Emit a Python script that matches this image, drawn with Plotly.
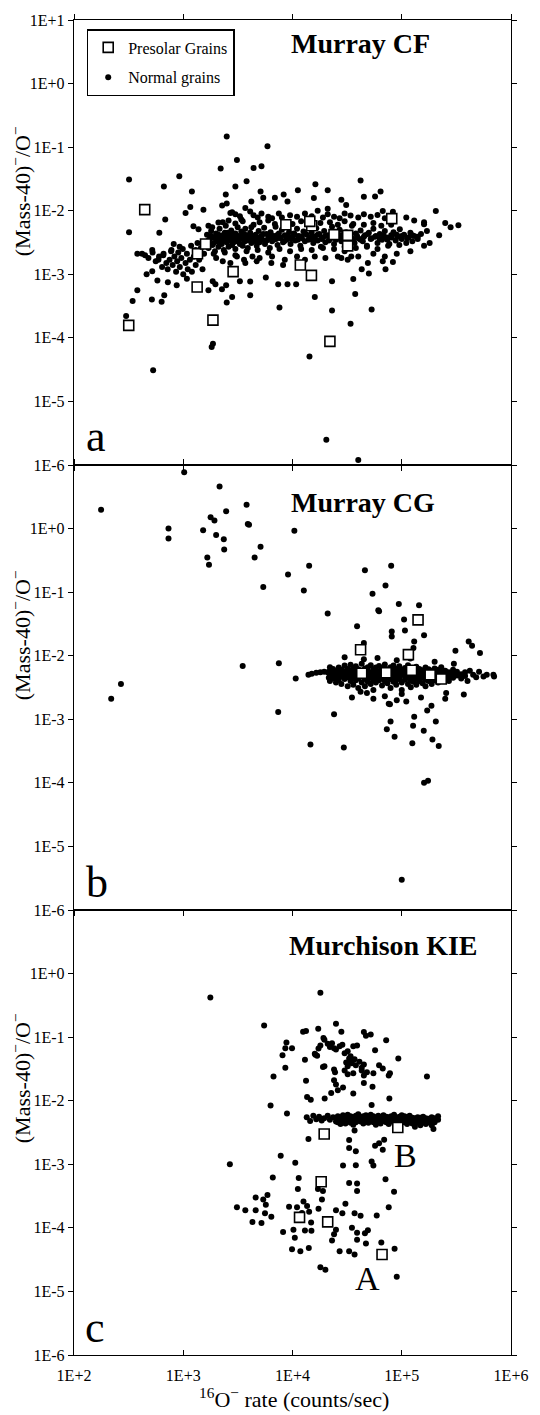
import plotly.graph_objects as go

# ---------------- data ----------------
x_tick_vals = [1e2, 1e3, 1e4, 1e5, 1e6]
x_tick_text = ["1E+2", "1E+3", "1E+4", "1E+5", "1E+6"]
y_tick_vals = [1e-6, 1e-5, 1e-4, 1e-3, 1e-2, 1e-1, 1e0, 1e1]
y_tick_text = ["1E-6", "1E-5", "1E-4", "1E-3", "1E-2", "1E-1", "1E+0", "1E+1"]

panel_titles = ["Murray CF", "Murray CG", "Murchison KIE"]
panel_letters = ["a", "b", "c"]
legend_names = ["Presolar Grains", "Normal grains"]

# ---- panel a : Murray CF ----
cf_presolar = [(444, 0.0104), (317, 0.000157), (1870, 0.00019), (1340, 0.00063), (2860, 0.0011),
               (1350, 0.0021), (1600, 0.0030), (8700, 0.0060), (15000, 0.0058), (14400, 0.0068),
               (24000, 0.0042), (32000, 0.0041), (32000, 0.0028), (11800, 0.0014), (14900, 0.00096),
               (22000, 8.8e-5), (81000, 0.0075)]

cf_scatter = [(2500, 0.147), (5900, 0.103), (3100, 0.063), (2200, 0.046), (4400, 0.047), (5200, 0.050),
              (319, 0.031), (920, 0.035), (665, 0.024), (3800, 0.029), (3000, 0.024), (1200, 0.020),
              (2450, 0.018), (5100, 0.020), (4200, 0.014), (5400, 0.016), (6900, 0.016), (8300, 0.018),
              (11200, 0.021), (16200, 0.026), (21000, 0.021), (15700, 0.0158), (9000, 0.014), (42000, 0.030),
              (45000, 0.0166), (57000, 0.0168), (64000, 0.020), (28000, 0.0149), (31000, 0.0123),
              (21000, 0.0107), (205000, 0.0099), (250000, 0.0064), (330000, 0.0059), (280000, 0.0055),
              (160000, 0.0061), (170000, 0.0048), (220000, 0.0041), (67000, 0.0099), (83000, 0.0096),
              (319, 0.0046), (604, 0.0045), (684, 0.0073), (1050, 0.0092), (1160, 0.0114), (1530, 0.0104),
              (2270, 0.0121), (2500, 0.013), (2700, 0.0092), (3400, 0.0073), (1840, 0.0055), (2300, 0.0066),
              (1240, 0.0057), (1380, 0.0051), (818, 0.0030), (927, 0.0027), (380, 0.0021), (447, 0.0020),
              (524, 0.0022), (593, 0.0017), (656, 0.0020), (774, 0.0023), (462, 0.0010), (520, 0.00112),
              (580, 0.0008), (723, 0.00075), (871, 0.00067), (1080, 0.00085), (380, 0.00056), (344, 0.00038),
              (516, 0.0004), (634, 0.00037), (670, 0.00047), (300, 0.00022), (1870, 8.1e-5), (1820, 7.2e-5),
              (530, 3.1e-5), (14300, 5.1e-5), (7600, 0.0003), (16000, 0.00044), (23000, 0.00027),
              (34000, 0.000167), (53000, 0.00028), (37500, 0.00049), (36000, 0.00084), (23000, 0.00078),
              (7400, 0.0007), (9000, 0.0007), (10800, 0.0007), (4100, 0.00047), (2800, 0.00044),
              (2500, 0.00036), (1700, 0.00056), (2260, 0.00058), (2470, 0.00067), (1860, 0.00078),
              (1970, 0.0007), (3300, 0.00078), (4100, 0.00077), (5700, 0.00089), (6400, 0.0015),
              (8200, 0.0014), (4700, 0.0016), (3700, 0.0015), (43000, 0.0012), (50000, 0.00103),
              (49000, 0.0015), (67000, 0.0016), (71000, 0.0012), (83000, 0.00156), (28000, 0.0018),
              (34500, 0.0019), (20400, 2.5e-6), (40000, 1.2e-6)]

cf_arm = [(420, 0.0021), (480, 0.0018), (520, 0.0024), (560, 0.0016), (600, 0.0019), (640, 0.0013),
          (660, 0.0021), (700, 0.0015), (720, 0.0012), (750, 0.0017), (780, 0.0024), (800, 0.0014),
          (830, 0.0019), (860, 0.0011), (880, 0.0016), (900, 0.0022), (930, 0.0013), (960, 0.0018),
          (990, 0.0025), (1000, 0.0010), (1050, 0.0015), (1080, 0.0021), (1100, 0.0012), (1150, 0.0017),
          (1180, 0.0028), (1200, 0.0011), (1250, 0.0019), (1300, 0.0024), (1300, 0.0014), (1350, 0.0031),
          (1400, 0.0017), (1450, 0.0026), (1500, 0.0012), (1550, 0.0021)]

cf_band = [(1600, 0.0031), (1650, 0.0042), (1700, 0.0026), (1750, 0.0036), (1800, 0.0048), (1850, 0.0029),
           (1900, 0.0038), (1950, 0.0023), (2000, 0.0044), (2050, 0.0033), (2100, 0.0027), (2150, 0.0052),
           (2200, 0.0037), (2250, 0.0030), (2300, 0.0041), (2350, 0.0024), (2400, 0.0035), (2450, 0.0058),
           (2500, 0.0032), (2550, 0.0045), (2600, 0.0027), (2650, 0.0039), (2700, 0.0034), (2750, 0.0049),
           (2800, 0.0029), (2900, 0.0037), (2950, 0.0043), (3000, 0.0025), (3100, 0.0033), (3150, 0.0055),
           (3200, 0.0040), (3300, 0.0030), (3350, 0.0036), (3400, 0.0047), (3500, 0.0028), (3600, 0.0038),
           (3650, 0.0033), (3700, 0.0052), (3800, 0.0041), (3900, 0.0026), (4000, 0.0035), (4100, 0.0045),
           (4200, 0.0031), (4300, 0.0039), (4400, 0.0060), (4500, 0.0034), (4600, 0.0042), (4700, 0.0028),
           (4800, 0.0037), (4900, 0.0048), (5000, 0.0032), (5200, 0.0040), (5300, 0.0035), (5500, 0.0054),
           (5600, 0.0030), (5800, 0.0043), (6000, 0.0037), (6200, 0.0026), (6300, 0.0046), (6500, 0.0033),
           (6700, 0.0040), (6900, 0.0062), (7100, 0.0036), (7300, 0.0029), (7500, 0.0044), (7700, 0.0038),
           (8000, 0.0050), (8200, 0.0032), (8500, 0.0041), (8800, 0.0035), (9000, 0.0057), (9300, 0.0046),
           (9600, 0.0030), (10000, 0.0039), (10300, 0.0044), (10600, 0.0034), (11000, 0.0052),
           (11400, 0.0040), (11800, 0.0028), (12200, 0.0037), (12600, 0.0047), (13000, 0.0033),
           (13500, 0.0042), (14000, 0.0061), (14500, 0.0036), (15000, 0.0045), (15500, 0.0031),
           (16000, 0.0039), (16500, 0.0053), (17000, 0.0034), (17600, 0.0043), (18200, 0.0027),
           (18800, 0.0038), (19500, 0.0048), (20000, 0.0032), (21000, 0.0041), (22000, 0.0036),
           (23000, 0.0056), (24000, 0.0030), (25000, 0.0044), (26000, 0.0038), (27000, 0.0050),
           (28000, 0.0033), (29000, 0.0042), (30000, 0.0027), (31000, 0.0046), (32000, 0.0035),
           (34000, 0.0040), (35000, 0.0058), (37000, 0.0031), (38000, 0.0044), (40000, 0.0037),
           (42000, 0.0049), (44000, 0.0033), (46000, 0.0041), (48000, 0.0028), (50000, 0.0045),
           (52000, 0.0036), (55000, 0.0052), (57000, 0.0039), (60000, 0.0031), (63000, 0.0043),
           (66000, 0.0035), (70000, 0.0048), (73000, 0.0038), (77000, 0.0030), (80000, 0.0041),
           (84000, 0.0046), (88000, 0.0034), (92000, 0.0039), (96000, 0.0051), (100000, 0.0036),
           (105000, 0.0042), (110000, 0.0031), (115000, 0.0038), (120000, 0.0045), (125000, 0.0033),
           (130000, 0.0040), (140000, 0.0036), (150000, 0.0043),
           (1700, 0.0058), (2100, 0.0065), (2600, 0.0070), (3000, 0.0063), (3500, 0.0068), (4200, 0.0055),
           (5000, 0.0066), (6000, 0.0070), (7000, 0.0056), (8500, 0.0066), (10000, 0.0062), (12000, 0.0068),
           (15000, 0.0058), (18000, 0.0064), (22000, 0.0066), (26000, 0.0060), (30000, 0.0068),
           (36000, 0.0062), (45000, 0.0060), (55000, 0.0064), (65000, 0.0058), (80000, 0.0060),
           (1900, 0.0021), (2400, 0.0022), (3000, 0.0020), (3800, 0.0023), (4800, 0.0024), (6000, 0.0022),
           (7600, 0.0025), (9500, 0.0023), (12000, 0.0025), (15000, 0.0024), (19000, 0.0026),
           (24000, 0.0025), (30000, 0.0023), (38000, 0.0026), (48000, 0.0027), (60000, 0.0025),
           (75000, 0.0028), (95000, 0.0029)]

cf_band_core = [(1700, 0.0034), (1800, 0.0040), (1900, 0.0031), (2000, 0.0037), (2100, 0.0042), (2200, 0.0033),
                (2300, 0.0036), (2400, 0.0045), (2500, 0.0039), (2600, 0.0034), (2700, 0.0041), (2800, 0.0036),
                (2900, 0.0032), (3000, 0.0044), (3200, 0.0035), (3400, 0.0039), (3600, 0.0043), (3800, 0.0034),
                (4000, 0.0040), (4300, 0.0036), (4600, 0.0033), (5000, 0.0038), (5400, 0.0043), (5800, 0.0034),
                (6200, 0.0039), (6700, 0.0035), (7200, 0.0041), (7800, 0.0037), (8400, 0.0033), (9000, 0.0040),
                (9800, 0.0036), (10500, 0.0042), (11200, 0.0035), (12000, 0.0039), (13000, 0.0044),
                (14000, 0.0035), (15000, 0.0039), (16000, 0.0034), (17000, 0.0042), (18500, 0.0036),
                (20000, 0.0040), (21500, 0.0034), (23000, 0.0039), (25000, 0.0035), (27000, 0.0041),
                (29000, 0.0037), (31000, 0.0034), (33000, 0.0042), (36000, 0.0036), (39000, 0.0040),
                (42000, 0.0035), (45000, 0.0039), (49000, 0.0043), (53000, 0.0037), (58000, 0.0040),
                (63000, 0.0036), (68000, 0.0041), (74000, 0.0035), (81000, 0.0038), (90000, 0.0042),
                (100000, 0.0040), (112000, 0.0037), (125000, 0.0041), (140000, 0.0039)]

cf_edges = [(2800, 0.0095), (3000, 0.0088), (3300, 0.0082), (3700, 0.011), (4100, 0.0097), (4400, 0.0085),
            (4800, 0.0078), (5200, 0.0090), (6000, 0.0080), (6500, 0.0076), (7500, 0.0090), (8000, 0.0078),
            (9500, 0.0085), (11000, 0.0080), (13000, 0.0090), (15000, 0.0082), (17000, 0.0100),
            (19000, 0.0078), (21000, 0.0088), (24000, 0.0080), (27000, 0.0076), (30000, 0.0090),
            (34000, 0.0084), (40000, 0.0078), (45000, 0.0088), (52000, 0.0080), (60000, 0.0086),
            (70000, 0.0076), (85000, 0.0080), (110000, 0.0078), (130000, 0.0070), (160000, 0.0066),
            (2000, 0.0018), (2300, 0.0016), (2700, 0.0015), (3100, 0.0019), (3600, 0.0017), (4300, 0.0019),
            (5000, 0.0018), (6500, 0.0019), (8500, 0.0017), (11000, 0.0019), (13000, 0.0017),
            (16000, 0.0019), (20000, 0.0018), (26000, 0.0019), (32000, 0.0017), (40000, 0.0019),
            (55000, 0.0021), (70000, 0.0019), (90000, 0.0021), (120000, 0.0023), (160000, 0.0028),
            (180000, 0.0031)]

# ---- panel b : Murray CG ----
cg_presolar = [(141000, 0.0366), (42000, 0.0124), (115000, 0.0104), (43000, 0.0053), (72000, 0.0054),
               (123000, 0.0059), (182000, 0.0050), (230000, 0.0043)]

cg_scatter = [(1020, 7.7), (177, 1.97), (2150, 4.6), (2470, 1.88), (3800, 2.37), (1780, 1.51), (1930, 1.34),
              (733, 1.0), (733, 0.70), (1520, 0.94), (2000, 0.79), (2350, 0.68), (2370, 0.47), (1660, 0.35),
              (1720, 0.27), (3900, 1.18), (4000, 1.15), (5100, 0.52), (4500, 0.35), (10400, 0.92),
              (5400, 0.121), (9100, 0.19), (14200, 0.26), (12700, 0.106), (21000, 0.046), (46000, 0.22),
              (80000, 0.26), (71000, 0.127), (54000, 0.094), (61000, 0.052), (62000, 0.050), (94000, 0.065),
              (144000, 0.062), (105000, 0.037), (107000, 0.025), (81000, 0.024), (81000, 0.020),
              (160000, 0.021), (130000, 0.0168), (128000, 0.0132), (39000, 0.029), (45000, 0.0158),
              (410000, 0.0168), (440000, 0.0144), (520000, 0.011), (310000, 0.012), (3500, 0.0069),
              (7500, 0.0076), (10700, 0.0044), (269, 0.0036), (219, 0.0021), (7400, 0.0013), (24000, 0.0012),
              (14600, 0.0004), (29500, 0.00036), (76000, 0.00175), (78000, 0.00172), (79000, 0.00092),
              (73000, 0.0007), (86000, 0.00053), (130000, 0.0011), (127000, 0.00079), (125000, 0.00042),
              (159000, 0.00066), (171000, 0.00137), (187000, 0.00164), (205000, 0.00092), (191000, 0.00048),
              (218000, 0.00038), (160000, 0.0001), (174000, 0.000108), (370000, 0.00245), (690000, 0.0050),
              (700000, 0.0047), (510000, 0.0056), (42000, 0.0027), (48000, 0.0026), (100000, 0.0025),
              (255000, 0.0026), (100000, 3.0e-6),
              (14000, 0.0050), (15000, 0.0052), (16500, 0.0054), (18000, 0.0055), (19500, 0.0056),
              (21000, 0.0055), (22000, 0.0066), (21500, 0.0045), (450000, 0.0050), (480000, 0.0046),
              (420000, 0.0058), (600000, 0.0050), (560000, 0.0047), (400000, 0.0040), (30000, 0.0095),
              (45000, 0.0088), (60000, 0.0092), (90000, 0.0085), (120000, 0.0090), (200000, 0.0080),
              (300000, 0.0075), (35000, 0.0022), (55000, 0.0021), (70000, 0.0023), (90000, 0.0020),
              (150000, 0.0022), (250000, 0.0021), (110000, 0.0019)]

cg_band = [(22000, 0.0048), (22000, 0.0058), (22000, 0.0040), (23500, 0.0052), (23500, 0.0044), (23500, 0.0062),
           (25000, 0.0050), (25000, 0.0038), (25000, 0.0057), (25000, 0.0046), (26500, 0.0055), (26500, 0.0042),
           (26500, 0.0049), (26500, 0.0065), (28000, 0.0047), (28000, 0.0060), (28000, 0.0036), (28000, 0.0053),
           (30000, 0.0051), (30000, 0.0043), (30000, 0.0070), (30000, 0.0057), (32000, 0.0046), (32000, 0.0054),
           (32000, 0.0033), (32000, 0.0062), (34000, 0.0058), (34000, 0.0049), (34000, 0.0040), (34000, 0.0072),
           (36000, 0.0052), (36000, 0.0045), (36000, 0.0064), (36000, 0.0035), (38000, 0.0048), (38000, 0.0056),
           (38000, 0.0041), (38000, 0.0068), (40000, 0.0053), (40000, 0.0044), (40000, 0.0061), (40000, 0.0031),
           (43000, 0.0050), (43000, 0.0058), (43000, 0.0038), (43000, 0.0047), (43000, 0.0075),
           (46000, 0.0055), (46000, 0.0043), (46000, 0.0063), (46000, 0.0049), (46000, 0.0033),
           (49000, 0.0047), (49000, 0.0052), (49000, 0.0066), (49000, 0.0039), (49000, 0.0058),
           (52000, 0.0054), (52000, 0.0045), (52000, 0.0071), (52000, 0.0050), (52000, 0.0036),
           (55000, 0.0049), (55000, 0.0060), (55000, 0.0042), (55000, 0.0055), (55000, 0.0029),
           (58000, 0.0052), (58000, 0.0046), (58000, 0.0065), (58000, 0.0038), (58000, 0.0057),
           (62000, 0.0056), (62000, 0.0048), (62000, 0.0041), (62000, 0.0069), (62000, 0.0052),
           (66000, 0.0050), (66000, 0.0059), (66000, 0.0044), (66000, 0.0034), (66000, 0.0063),
           (70000, 0.0054), (70000, 0.0047), (70000, 0.0073), (70000, 0.0040), (70000, 0.0058),
           (74000, 0.0049), (74000, 0.0061), (74000, 0.0052), (74000, 0.0037), (74000, 0.0045),
           (79000, 0.0055), (79000, 0.0043), (79000, 0.0066), (79000, 0.0050), (79000, 0.0031),
           (84000, 0.0051), (84000, 0.0058), (84000, 0.0039), (84000, 0.0047), (84000, 0.0070),
           (89000, 0.0046), (89000, 0.0054), (89000, 0.0062), (89000, 0.0041), (89000, 0.0035),
           (95000, 0.0053), (95000, 0.0048), (95000, 0.0068), (95000, 0.0044), (95000, 0.0057),
           (100000, 0.0050), (100000, 0.0060), (100000, 0.0038), (100000, 0.0055), (100000, 0.0029),
           (107000, 0.0047), (107000, 0.0056), (107000, 0.0064), (107000, 0.0042), (107000, 0.0051),
           (114000, 0.0054), (114000, 0.0045), (114000, 0.0071), (114000, 0.0036), (114000, 0.0059),
           (121000, 0.0049), (121000, 0.0058), (121000, 0.0041), (121000, 0.0052), (121000, 0.0032),
           (128000, 0.0055), (128000, 0.0046), (128000, 0.0063), (128000, 0.0039), (128000, 0.0050),
           (136000, 0.0051), (136000, 0.0060), (136000, 0.0043), (136000, 0.0035), (136000, 0.0067),
           (145000, 0.0048), (145000, 0.0056), (145000, 0.0040), (145000, 0.0062), (145000, 0.0053),
           (155000, 0.0053), (155000, 0.0045), (155000, 0.0059), (155000, 0.0037), (155000, 0.0049),
           (165000, 0.0050), (165000, 0.0057), (165000, 0.0042), (165000, 0.0065), (165000, 0.0033),
           (176000, 0.0046), (176000, 0.0054), (176000, 0.0061), (176000, 0.0040),
           (188000, 0.0052), (188000, 0.0044), (188000, 0.0058), (188000, 0.0036),
           (200000, 0.0049), (200000, 0.0056), (200000, 0.0041), (200000, 0.0063),
           (215000, 0.0053), (215000, 0.0045), (215000, 0.0060), (215000, 0.0038),
           (230000, 0.0048), (230000, 0.0055), (230000, 0.0042), (230000, 0.0066),
           (250000, 0.0051), (250000, 0.0044), (250000, 0.0058), (270000, 0.0047), (270000, 0.0055),
           (270000, 0.0040), (295000, 0.0052), (295000, 0.0045), (295000, 0.0060), (320000, 0.0049),
           (320000, 0.0056), (350000, 0.0051), (350000, 0.0044), (380000, 0.0048), (380000, 0.0055)]

# ---- panel c : Murchison KIE ----
kie_presolar = [(19500, 0.0030), (92000, 0.0038), (18300, 0.00053), (11600, 0.000146), (21000, 0.000124),
                (66000, 3.8e-5)]

kie_scatter = [(1770, 0.42), (18000, 0.50), (5500, 0.152), (25000, 0.163), (12500, 0.122), (13300, 0.125),
               (17200, 0.136), (28000, 0.122), (45000, 0.12), (52000, 0.11), (47000, 0.105), (72000, 0.089),
               (8800, 0.082), (9900, 0.067), (8600, 0.067), (8100, 0.052), (8600, 0.033), (6700, 0.024),
               (6300, 0.0084), (8900, 0.0063), (13300, 0.0207), (13600, 0.0114), (14700, 0.0104),
               (13000, 0.044), (16000, 0.055), (16800, 0.051), (19600, 0.091), (19600, 0.035), (19700, 0.0108),
               (22600, 0.0132), (26000, 0.0146), (29000, 0.0162), (36000, 0.013), (32000, 0.035), (25000, 0.064),
               (28600, 0.076), (34000, 0.050), (35000, 0.039), (36000, 0.027), (45000, 0.037), (45000, 0.019),
               (54000, 0.0166), (57000, 0.062), (62000, 0.036), (67000, 0.032), (78000, 0.027), (76000, 0.025),
               (93000, 0.046), (77000, 0.0108), (53000, 0.0086), (170000, 0.024), (18000, 0.074),
               (17300, 0.066), (16200, 0.053), (19200, 0.097), (21000, 0.079), (23000, 0.080), (27000, 0.072),
               (32000, 0.060), (36000, 0.072), (39000, 0.074), (34000, 0.042), (38000, 0.036), (43000, 0.030),
               (45000, 0.025), (24000, 0.031), (24500, 0.028), (24000, 0.021), (25000, 0.018), (32000, 0.026),
               (19000, 0.034), (22000, 0.070), (24000, 0.067), (30000, 0.056), (33000, 0.046), (37000, 0.045),
               (41000, 0.041), (43000, 0.033), (48000, 0.028), (55000, 0.027), (31000, 0.040), (30000, 0.030),
               (14000, 0.0025), (33000, 0.0024), (33000, 0.0018), (38000, 0.0016), (37000, 0.0034),
               (57000, 0.00195), (62000, 0.00215), (67000, 0.0017), (69000, 0.00243), (53000, 0.00111),
               (55000, 0.00096), (38000, 0.00097), (29000, 0.00096), (7800, 0.00136), (10600, 0.00106),
               (2670, 0.0010), (6600, 0.00062), (11400, 0.00061), (11200, 0.00041), (33000, 0.00051),
               (39000, 0.0005), (39000, 0.00038), (71000, 0.00058), (85000, 0.00037), (76000, 0.00021),
               (30500, 0.00024), (37000, 0.00017), (42000, 0.000155), (59000, 0.000156), (35000, 0.0001),
               (39000, 8.4e-5), (46000, 8.2e-5), (49000, 9.2e-5), (39000, 6.5e-5), (47000, 5.7e-5),
               (65000, 5.9e-5), (86000, 4.7e-5), (90000, 1.7e-5), (27000, 4.3e-5), (33000, 4.3e-5),
               (37000, 3.8e-5), (18000, 2.4e-5), (20000, 2.2e-5), (3100, 0.00021), (3700, 0.00019),
               (4600, 0.00019), (4600, 0.0003), (5400, 0.00028), (5900, 0.00033), (5700, 0.00023),
               (6400, 0.00015), (5600, 0.00017), (4300, 0.000124), (5200, 0.000119), (9300, 0.000214),
               (11000, 0.00021), (12600, 0.00026), (13600, 0.00022), (14200, 0.000179), (12200, 0.000172),
               (17100, 0.00041), (18600, 0.00028), (17300, 0.0002), (19000, 0.00038), (25000, 0.00019),
               (28600, 0.00017), (25000, 9.3e-5), (24000, 7.9e-5), (23000, 6.3e-5), (14800, 0.000121),
               (13000, 9.1e-5), (14900, 9.0e-5), (10200, 9.3e-5), (8200, 8.6e-5), (10500, 7.0e-5),
               (9900, 4.6e-5), (11800, 4.3e-5), (14100, 4.8e-5)]

kie_band = [(13500, 0.0055), (14500, 0.0048), (15500, 0.0058), (16500, 0.0051), (17500, 0.0056),
            (18500, 0.0049), (19500, 0.0053), (21000, 0.0058), (22000, 0.0050), (23500, 0.0055), (25000, 0.0047),
            (26000, 0.0052), (26000, 0.0046), (26000, 0.0057), (27500, 0.0049), (27500, 0.0055), (27500, 0.0043),
            (29000, 0.0053), (29000, 0.0047), (29000, 0.0059), (30500, 0.0050), (30500, 0.0056), (30500, 0.0044),
            (32000, 0.0054), (32000, 0.0048), (32000, 0.0060), (34000, 0.0051), (34000, 0.0045), (34000, 0.0057),
            (36000, 0.0055), (36000, 0.0049), (36000, 0.0042), (38000, 0.0052), (38000, 0.0058), (38000, 0.0046),
            (40000, 0.0049), (40000, 0.0054), (40000, 0.0061), (42000, 0.0053), (42000, 0.0047), (42000, 0.0056),
            (44500, 0.0050), (44500, 0.0057), (44500, 0.0044), (47000, 0.0054), (47000, 0.0048), (47000, 0.0059),
            (49500, 0.0051), (49500, 0.0045), (49500, 0.0056), (52000, 0.0055), (52000, 0.0049), (52000, 0.0060),
            (55000, 0.0052), (55000, 0.0046), (55000, 0.0057), (58000, 0.0049), (58000, 0.0054), (58000, 0.0042),
            (61000, 0.0053), (61000, 0.0058), (61000, 0.0047), (64000, 0.0050), (64000, 0.0055), (64000, 0.0044),
            (68000, 0.0054), (68000, 0.0048), (68000, 0.0059), (72000, 0.0051), (72000, 0.0046), (72000, 0.0056),
            (76000, 0.0055), (76000, 0.0050), (76000, 0.0043), (80000, 0.0052), (80000, 0.0057), (80000, 0.0047),
            (85000, 0.0049), (85000, 0.0054), (85000, 0.0060), (90000, 0.0053), (90000, 0.0047), (90000, 0.0041),
            (95000, 0.0050), (95000, 0.0056), (95000, 0.0045), (100000, 0.0054), (100000, 0.0048),
            (100000, 0.0059), (106000, 0.0051), (106000, 0.0046), (106000, 0.0057), (112000, 0.0055),
            (112000, 0.0049), (112000, 0.0043), (118000, 0.0052), (118000, 0.0047), (118000, 0.0058),
            (125000, 0.0049), (125000, 0.0054), (125000, 0.0044), (132000, 0.0053), (132000, 0.0048),
            (132000, 0.0039), (140000, 0.0050), (140000, 0.0055), (140000, 0.0045), (148000, 0.0054),
            (148000, 0.0047), (148000, 0.0041), (157000, 0.0051), (157000, 0.0046), (157000, 0.0056),
            (166000, 0.0048), (166000, 0.0053), (166000, 0.0043), (176000, 0.0052), (176000, 0.0046),
            (188000, 0.0049), (188000, 0.0055), (188000, 0.0041), (200000, 0.0053), (200000, 0.0046),
            (215000, 0.0050), (215000, 0.0057), (195000, 0.0036)]

# ---------------- figure ----------------
W, H = 540, 1415
ML, MR, MT, MB = 74, 19, 20, 60
PW, PH = W - ML - MR, H - MT - MB


def px_x(px):
    return (px - ML) / PW


def px_y(py):
    return 1 - (py - MT) / PH


def unzip(pairs):
    return [p[0] for p in pairs], [p[1] for p in pairs]


SERIF = "Liberation Serif"

panels = [
    (cf_scatter + cf_arm + cf_band + cf_band_core + cf_edges, cf_presolar),
    (cg_scatter + cg_band, cg_presolar),
    (kie_scatter + kie_band, kie_presolar),
]

fig = go.Figure()
for i, (normal, presolar) in enumerate(panels):
    suffix = "" if i == 0 else str(i + 1)
    nx, ny = unzip(normal)
    sx, sy = unzip(presolar)
    fig.add_trace(go.Scatter(
        x=nx, y=ny, mode="markers", name=legend_names[1], showlegend=(i == 0),
        legendrank=2, legendgroup="normal",
        marker=dict(symbol="circle", size=6, color="black", line=dict(width=0)),
        xaxis="x" + suffix, yaxis="y" + suffix))
    fig.add_trace(go.Scatter(
        x=sx, y=sy, mode="markers", name=legend_names[0], showlegend=(i == 0),
        legendrank=1, legendgroup="presolar",
        marker=dict(symbol="square", size=10, color="white", line=dict(width=1.6, color="black")),
        xaxis="x" + suffix, yaxis="y" + suffix))

axis_common = dict(type="log", showgrid=False, zeroline=False, showline=True, linecolor="black",
                   linewidth=1.4, mirror="ticks", ticklen=5, tickwidth=1.2, tickcolor="black",
                   tickfont=dict(family=SERIF, size=16, color="black"))

domains = [[2 / 3, 1.0], [1 / 3, 2 / 3], [0.0, 1 / 3]]
layout = dict(width=W, height=H, margin=dict(l=ML, r=MR, t=MT, b=MB),
              paper_bgcolor="white", plot_bgcolor="white", showlegend=True)
for i in range(3):
    suffix = "" if i == 0 else str(i + 1)
    layout["xaxis" + suffix] = dict(
        axis_common, range=[2, 6], domain=[0, 1], anchor="y" + suffix,
        tickvals=x_tick_vals, ticktext=x_tick_text, showticklabels=(i == 2),
        ticks="inside" if i == 2 else "outside", ticklabelstandoff=6)
    yvals = y_tick_vals if i == 0 else y_tick_vals[:-1]
    ytext = y_tick_text if i == 0 else y_tick_text[:-1]
    layout["yaxis" + suffix] = dict(
        axis_common, range=[-6, 1], domain=domains[i], anchor="x" + suffix,
        tickvals=yvals, ticktext=ytext, ticks="outside")
fig.update_layout(**layout)

fig.update_layout(legend=dict(
    x=px_x(87), y=px_y(29), xanchor="left", yanchor="top",
    bordercolor="black", borderwidth=1.5, bgcolor="white",
    font=dict(family=SERIF, size=16, color="black"), tracegroupgap=6))

ann = []
title_pos = [(367, 43), (370, 502), (391, 945)]
for t, (x, y) in zip(panel_titles, title_pos):
    ann.append(dict(text="<b>%s</b>" % t, x=px_x(x), y=px_y(y), xref="paper", yref="paper",
                    showarrow=False, xanchor="center", yanchor="middle",
                    font=dict(family=SERIF, size=28, color="black")))
letter_pos = [(96, 436), (98, 882), (95, 1327)]
for t, (x, y) in zip(panel_letters, letter_pos):
    ann.append(dict(text=t, x=px_x(x), y=px_y(y), xref="paper", yref="paper",
                    showarrow=False, xanchor="center", yanchor="middle",
                    font=dict(family=SERIF, size=44, color="black")))
for t, (x, y) in zip(["B", "A"], [(413, 1155), (374, 1278)]):
    ann.append(dict(text=t, x=px_x(x), y=px_y(y), xref="paper", yref="paper",
                    showarrow=False, xanchor="center", yanchor="middle",
                    font=dict(family=SERIF, size=34, color="black")))
for yc in [191, 635, 1078]:
    ann.append(dict(text="(Mass-40)<sup>\u2212</sup>/O<sup>\u2212</sup>", x=px_x(20), y=px_y(yc),
                    xref="paper", yref="paper", showarrow=False, textangle=-90,
                    xanchor="center", yanchor="middle",
                    font=dict(family=SERIF, size=22, color="black")))
ann.append(dict(text="<sup>16</sup>O<sup>\u2212</sup> rate (counts/sec)", x=px_x(299), y=px_y(1398),
                xref="paper", yref="paper", showarrow=False, xanchor="center", yanchor="middle",
                font=dict(family=SERIF, size=22, color="black")))
fig.update_layout(annotations=ann)

fig.write_html("out.html")
